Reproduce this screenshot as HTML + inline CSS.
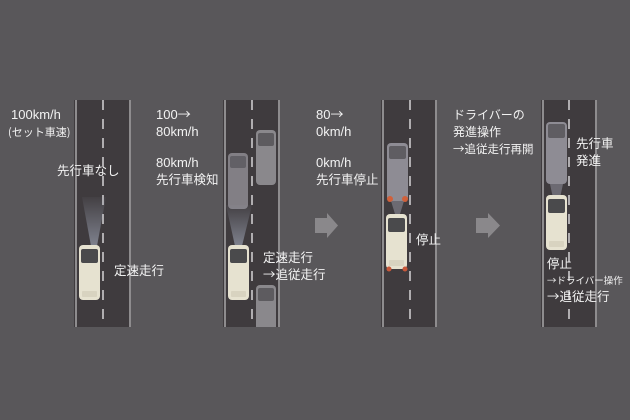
<!DOCTYPE html>
<html><head><meta charset="utf-8"><style>
html,body{margin:0;padding:0;background:#59575a;}
svg{display:block}
text{font-family:"Liberation Sans","Noto Sans CJK JP",sans-serif;fill:#f2f2f2;}
.j{font-family:"Noto Sans CJK JP",sans-serif;}
</style></head><body>
<svg width="630" height="420" viewBox="0 0 630 420" xmlns="http://www.w3.org/2000/svg">
<defs>
<linearGradient id="beam" x1="0" y1="1" x2="0" y2="0">
<stop offset="0" stop-color="#9aa0b0" stop-opacity="0.7"/><stop offset="1" stop-color="#9aa0b0" stop-opacity="0.05"/>
</linearGradient>
<clipPath id="rc"><rect x="0" y="100" width="630" height="227"/></clipPath>
<g id="car">
<rect x="0" y="0" width="21" height="55" rx="4" fill="#e6e2d0"/>
<rect x="2" y="4" width="17" height="14" rx="2" fill="#4a4a4c"/>
<rect x="3" y="46" width="15" height="6" rx="1" fill="#d8d3c0"/>
</g>
<g id="gcar">
<rect x="0" y="0" width="20" height="55" rx="4" fill="#8a888c"/>
<rect x="2" y="3" width="16" height="13" rx="2" fill="#5d5b5f"/>
</g>
</defs>
<rect width="630" height="420" fill="#59575a"/>
<g>
<rect x="74" y="100" width="57" height="227" fill="#3f3b3e"/>
<rect x="223" y="100" width="57" height="227" fill="#3f3b3e"/>
<rect x="381" y="100" width="56" height="227" fill="#3f3b3e"/>
<rect x="541" y="100" width="56" height="227" fill="#3f3b3e"/>
<g stroke="#b9b7ba" stroke-width="1.3">
<line x1="76" y1="100" x2="76" y2="327"/><line x1="130" y1="100" x2="130" y2="327"/>
<line x1="225" y1="100" x2="225" y2="327"/><line x1="279" y1="100" x2="279" y2="327"/>
<line x1="383" y1="100" x2="383" y2="327"/><line x1="436" y1="100" x2="436" y2="327"/>
<line x1="543" y1="100" x2="543" y2="327"/><line x1="596" y1="100" x2="596" y2="327"/>
</g>
<g stroke="#e0dee0" stroke-width="1.4" stroke-dasharray="10 9">
<line x1="103" y1="100" x2="103" y2="327"/><line x1="252" y1="100" x2="252" y2="327"/>
<line x1="410" y1="100" x2="410" y2="327"/><line x1="569" y1="100" x2="569" y2="327"/>
</g>
</g>
<polygon points="82,197 106,197 97,246 91,246" fill="url(#beam)"/>
<use href="#car" x="79" y="245"/>
<g clip-path="url(#rc)">
<use href="#gcar" x="256" y="130"/>
<use href="#gcar" x="256" y="285"/>
</g>
<rect x="228" y="153" width="20" height="56" rx="4" fill="#8e8c92" opacity="0.85"/>
<rect x="230" y="156" width="16" height="12" rx="2" fill="#626066"/>
<polygon points="226,205 252,205 242,246 235,246" fill="url(#beam)"/>
<use href="#car" x="228" y="245"/>
<rect x="387" y="143" width="21" height="58" rx="4" fill="#8e8c94"/>
<rect x="389" y="146" width="17" height="13" rx="2" fill="#5f5d62"/>
<circle cx="390" cy="199" r="3" fill="#d0603a"/><circle cx="405" cy="199" r="3" fill="#d0603a"/>
<polygon points="391,201 404,201 400,214 395,214" fill="#8a8a96" opacity="0.6"/>
<use href="#car" x="386" y="214"/>
<circle cx="389" cy="269" r="2.5" fill="#c8583a"/><circle cx="405" cy="269" r="2.5" fill="#c8583a"/>
<rect x="546" y="122" width="21" height="62" rx="4" fill="#8e8c94"/>
<rect x="548" y="124" width="17" height="14" rx="2" fill="#5f5d62"/>
<polygon points="550,184 563,184 560,198 553,198" fill="#8a8a96" opacity="0.6"/>
<use href="#car" x="546" y="195"/>
<polygon points="315,218 327,218 327,213 338,225.5 327,238 327,233 315,233" fill="#8a888b"/>
<polygon points="476,218 488,218 488,213 500,225.5 488,238 488,233 476,233" fill="#8a888b"/>
<text x="11" y="119" style="font-size:13px">100km/h</text>
<text x="8" y="136" class="j" style="font-size:11px">(セット車速)</text>
<text x="57" y="175" class="j" style="font-size:12.5px">先行車なし</text>
<text x="114" y="275" class="j" style="font-size:12.5px">定速走行</text>
<text x="156" y="119" style="font-size:13px">100<tspan class="j">→</tspan></text>
<text x="156" y="136" style="font-size:13px">80km/h</text>
<text x="156" y="167" style="font-size:13px">80km/h</text>
<text x="156" y="184" class="j" style="font-size:12.5px">先行車検知</text>
<text x="263" y="262" class="j" style="font-size:12.5px">定速走行</text>
<text x="263" y="279" class="j" style="font-size:12.5px">→追従走行</text>
<text x="316" y="119" style="font-size:13px">80<tspan class="j">→</tspan></text>
<text x="316" y="136" style="font-size:13px">0km/h</text>
<text x="316" y="167" style="font-size:13px">0km/h</text>
<text x="316" y="184" class="j" style="font-size:12.5px">先行車停止</text>
<text x="416" y="244" class="j" style="font-size:12.5px">停止</text>
<text x="453" y="119" class="j" style="font-size:12px">ドライバーの</text>
<text x="453" y="136" class="j" style="font-size:12px">発進操作</text>
<text x="453" y="153" class="j" style="font-size:11.5px">→追従走行再開</text>
<text x="576" y="148" class="j" style="font-size:12.5px">先行車</text>
<text x="576" y="165" class="j" style="font-size:12.5px">発進</text>
<text x="547" y="268" class="j" style="font-size:12.5px">停止</text>
<text x="547" y="284" class="j" style="font-size:9.5px">→ドライバー操作</text>
<text x="547" y="301" class="j" style="font-size:12.5px">→追従走行</text>
</svg>
</body></html>
